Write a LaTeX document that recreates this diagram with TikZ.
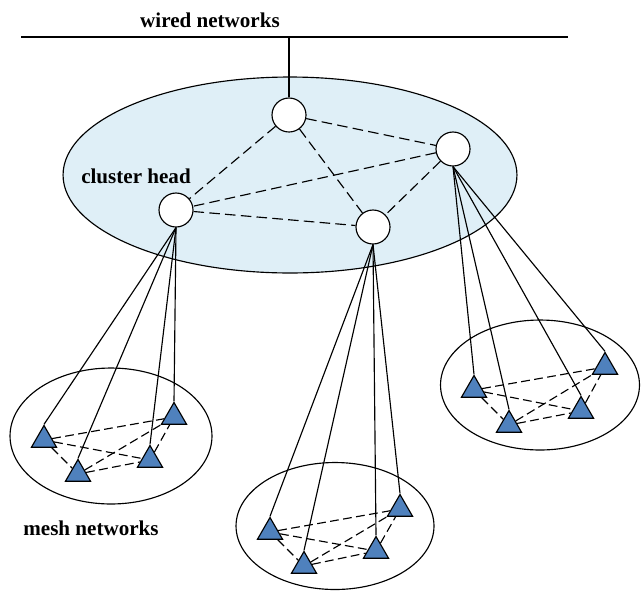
\documentclass[tikz,border=0pt]{standalone}
\usepackage{fontspec}
\setmainfont{Liberation Serif}
\usetikzlibrary{shapes.geometric}
\definecolor{cloudfill}{RGB}{223,239,247}
\definecolor{sensorfill}{RGB}{79,129,189}
\tikzstyle{head}=[circle,draw,fill=white,minimum size=0.68cm,inner sep=0pt]
\tikzstyle{sensor}=[regular polygon,regular polygon sides=3,draw,fill=sensorfill,minimum size=0.58cm,inner sep=0pt]
\tikzstyle{headlink}=[dash pattern=on 6pt off 3pt]
\tikzstyle{meshlink}=[dash pattern=on 5pt off 2.5pt]
\tikzstyle{netname}=[font=\bfseries\fontsize{12}{14}\selectfont]

\begin{document}
\begin{tikzpicture}[x=0.02cm,y=-0.02cm,line width=0.65pt]
\useasboundingbox (0,0) rectangle (641,592);
\draw[fill=cloudfill] (290,175) ellipse (4.54cm and 1.96cm);
\draw (111,436) ellipse (2.02cm and 1.36cm);
\draw (335,526) ellipse (1.98cm and 1.27cm);
\draw (540,385) ellipse (1.99cm and 1.3cm);

\coordinate (wl) at (21,37);
\coordinate (wr) at (568,37);
\coordinate (tap) at (289,37);
\draw (wl) -- (wr);
\node[netname] at (210,20) (wired) {wired networks};
\node[netname] at (136,176) (chead) {cluster head};
\node[netname] at (91,528) (mesh) {mesh networks};

\node[head] at (289,115) (h1) {};
\node[head] at (453,149) (h2) {};
\node[head] at (176,210) (h3) {};
\node[head] at (373,227) (h4) {};

\node[sensor] at (44,440) (l1) {};
\node[sensor] at (78,474) (l2) {};
\node[sensor] at (150,460) (l3) {};
\node[sensor] at (174,417) (l4) {};
\node[sensor] at (270,532) (m1) {};
\node[sensor] at (304,566) (m2) {};
\node[sensor] at (376,551) (m3) {};
\node[sensor] at (400,509) (m4) {};
\node[sensor] at (474,390) (r1) {};
\node[sensor] at (509,425) (r2) {};
\node[sensor] at (581,411) (r3) {};
\node[sensor] at (605,367) (r4) {};

\draw (h1) edge (tap);
\draw[headlink] (h1) edge (h2);
\draw[headlink] (h1) edge (h3);
\draw[headlink] (h1) edge (h4);
\draw[headlink] (h2) edge (h3);
\draw[headlink] (h2) edge (h4);
\draw[headlink] (h3) edge (h4);

\draw (h3.south) edge (l1.corner 1);
\draw (h3.south) edge (l2.corner 1);
\draw (h3.south) edge (l3.corner 1);
\draw (h3.south) edge (l4.corner 1);
\draw (h4.south) edge (m1.corner 1);
\draw (h4.south) edge (m2.corner 1);
\draw (h4.south) edge (m3.corner 1);
\draw (h4.south) edge (m4.corner 1);
\draw (h2.south) edge (r1.corner 1);
\draw (h2.south) edge (r2.corner 1);
\draw (h2.south) edge (r3.corner 1);
\draw (h2.south) edge (r4.corner 1);

\draw[meshlink] (l1) edge (l2);
\draw[meshlink] (l1) edge (l3);
\draw[meshlink] (l1) edge (l4);
\draw[meshlink] (l2) edge (l3);
\draw[meshlink] (l2) edge (l4);
\draw[meshlink] (l3) edge (l4);
\draw[meshlink] (m1) edge (m2);
\draw[meshlink] (m1) edge (m3);
\draw[meshlink] (m1) edge (m4);
\draw[meshlink] (m2) edge (m3);
\draw[meshlink] (m2) edge (m4);
\draw[meshlink] (m3) edge (m4);
\draw[meshlink] (r1) edge (r2);
\draw[meshlink] (r1) edge (r3);
\draw[meshlink] (r1) edge (r4);
\draw[meshlink] (r2) edge (r3);
\draw[meshlink] (r2) edge (r4);
\draw[meshlink] (r3) edge (r4);
\end{tikzpicture}
\end{document}
